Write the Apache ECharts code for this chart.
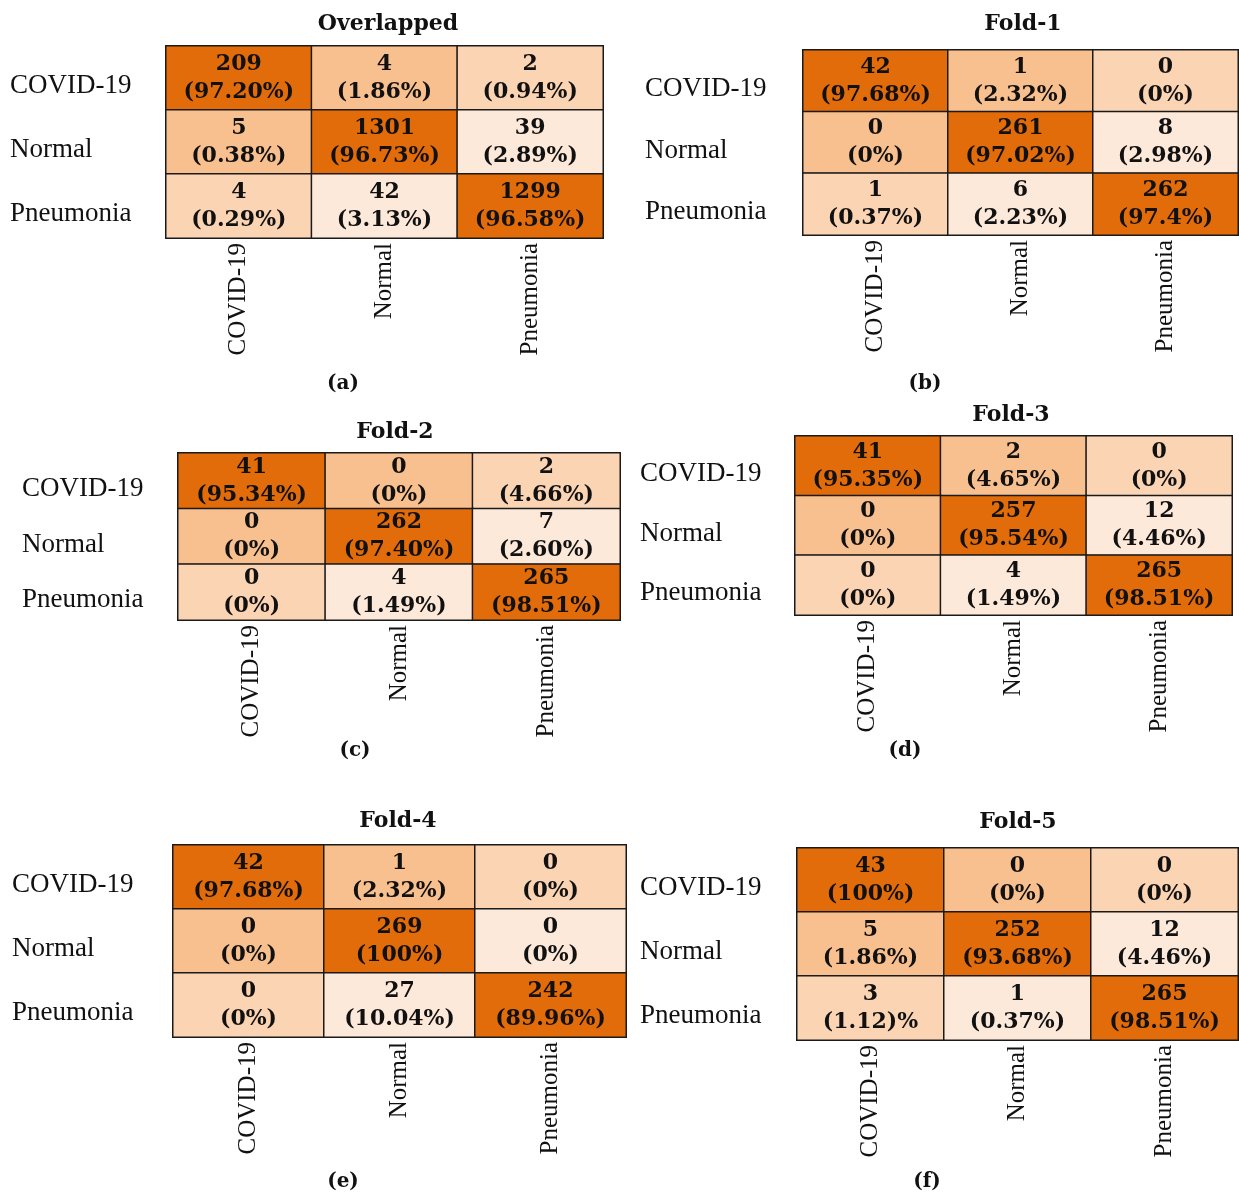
<!DOCTYPE html>
<html>
<head>
<meta charset="utf-8">
<script src="https://cdn.jsdelivr.net/npm/echarts@6/dist/echarts.min.js"></script>
<style>
  html, body { margin: 0; padding: 0; background: #fff; }
  #chart { width: 1239px; height: 1193px; }
</style>
</head>
<body>
<div id="chart"></div>
<script>
// 类别
const classes = ['COVID-19', 'Normal', 'Pneumonia'];
const panelTitles = ['Overlapped', 'Fold-1', 'Fold-2', 'Fold-3', 'Fold-4', 'Fold-5'];
const panelCaptions = ['(a)', '(b)', '(c)', '(d)', '(e)', '(f)'];

// 混淆矩阵: 行 = 真实, 列 = 预测
const overlappedCounts = [[209, 4, 2], [5, 1301, 39], [4, 42, 1299]];
const overlappedPct = [['(97.20%)', '(1.86%)', '(0.94%)'], ['(0.38%)', '(96.73%)', '(2.89%)'], ['(0.29%)', '(3.13%)', '(96.58%)']];
const fold1Counts = [[42, 1, 0], [0, 261, 8], [1, 6, 262]];
const fold1Pct = [['(97.68%)', '(2.32%)', '(0%)'], ['(0%)', '(97.02%)', '(2.98%)'], ['(0.37%)', '(2.23%)', '(97.4%)']];
const fold2Counts = [[41, 0, 2], [0, 262, 7], [0, 4, 265]];
const fold2Pct = [['(95.34%)', '(0%)', '(4.66%)'], ['(0%)', '(97.40%)', '(2.60%)'], ['(0%)', '(1.49%)', '(98.51%)']];
const fold3Counts = [[41, 2, 0], [0, 257, 12], [0, 4, 265]];
const fold3Pct = [['(95.35%)', '(4.65%)', '(0%)'], ['(0%)', '(95.54%)', '(4.46%)'], ['(0%)', '(1.49%)', '(98.51%)']];
const fold4Counts = [[42, 1, 0], [0, 269, 0], [0, 27, 242]];
const fold4Pct = [['(97.68%)', '(2.32%)', '(0%)'], ['(0%)', '(100%)', '(0%)'], ['(0%)', '(10.04%)', '(89.96%)']];
const fold5Counts = [[43, 0, 0], [5, 252, 12], [3, 1, 265]];
const fold5Pct = [['(100%)', '(0%)', '(0%)'], ['(1.86%)', '(93.68%)', '(4.46%)'], ['(1.12)%', '(0.37%)', '(98.51%)']];

const allCounts = [overlappedCounts, fold1Counts, fold2Counts, fold3Counts, fold4Counts, fold5Counts];
const allPct = [overlappedPct, fold1Pct, fold2Pct, fold3Pct, fold4Pct, fold5Pct];

// 单元格底色(按位置)
const shades = ['#E26B0A', '#F9C08F', '#FBD4B4', '#FDE9D9'];
const tone = [[0, 1, 2], [1, 0, 3], [2, 3, 0]];

// 每个面板的位置
const layout = [
    { left: 166, top: 46, width: 437, height: 192, titleX: 383, titleY: 8, labelX: 10, capX: 338, capY: 369 },
    { left: 803, top: 50, width: 435, height: 185, titleX: 1018, titleY: 8, labelX: 645, capX: 920, capY: 369 },
    { left: 178, top: 453, width: 442, height: 167, titleX: 390, titleY: 416, labelX: 22, capX: 350, capY: 736 },
    { left: 795, top: 436, width: 437, height: 179, titleX: 1006, titleY: 399, labelX: 640, capX: 900, capY: 736 },
    { left: 173, top: 845, width: 453, height: 192, titleX: 393, titleY: 805, labelX: 12, capX: 338, capY: 1167 },
    { left: 797, top: 848, width: 441, height: 192, titleX: 1013, titleY: 806, labelX: 640, capX: 922, capY: 1167 }
];

const serif = 'Liberation Serif';
const wideSerif = 'DejaVu Serif';

const grids = [], xAxes = [], yAxes = [], series = [], titles = [];

layout.forEach((p, i) => {
    grids.push({ left: p.left, top: p.top, width: p.width, height: p.height, containLabel: false });
    xAxes.push({
        type: 'category',
        gridIndex: i,
        data: classes,
        axisLine: { show: false },
        axisTick: { show: false },
        splitArea: { show: false },
        axisLabel: { rotate: 90, margin: 5, color: '#111', fontFamily: serif, fontSize: 25 }
    });
    yAxes.push({
        type: 'category',
        gridIndex: i,
        data: classes,
        inverse: true,
        axisLine: { show: false },
        axisTick: { show: false },
        splitArea: { show: false },
        axisLabel: {
            align: 'left', verticalAlign: 'top', lineHeight: 16,
            margin: p.left - p.labelX,
            color: '#111', fontFamily: serif, fontSize: 27
        }
    });
    const counts = allCounts[i];
    const pct = allPct[i];
    const data = [];
    counts.forEach((row, r) => {
        row.forEach((v, c) => {
            data.push({ value: [c, r, v], itemStyle: { color: shades[tone[r][c]] } });
        });
    });
    series.push({
        type: 'heatmap',
        xAxisIndex: i,
        yAxisIndex: i,
        data: data,
        itemStyle: { borderColor: '#1a1a1a', borderWidth: 1.5 },
        label: {
            show: true,
            color: '#111',
            fontFamily: wideSerif,
            fontWeight: 'bold',
            fontSize: 22,
            lineHeight: 28,
            formatter: (d) => d.value[2] + '\n' + pct[d.value[1]][d.value[0]]
        },
        emphasis: { disabled: true }
    });
    titles.push({
        text: panelTitles[i],
        left: p.titleX,
        top: p.titleY,
        textAlign: 'center',
        textStyle: { color: '#111', fontFamily: wideSerif, fontWeight: 'bold', fontSize: 22 }
    });
    titles.push({
        text: panelCaptions[i],
        left: p.capX,
        top: p.capY,
        textAlign: 'center',
        textStyle: { color: '#111', fontFamily: wideSerif, fontWeight: 'bold', fontSize: 20 }
    });
});

const myChart = echarts.init(document.getElementById('chart'));
myChart.setOption({
    backgroundColor: '#fff',
    animation: false,
    title: titles,
    grid: grids,
    xAxis: xAxes,
    yAxis: yAxes,
    series: series
});
</script>
</body>
</html>
